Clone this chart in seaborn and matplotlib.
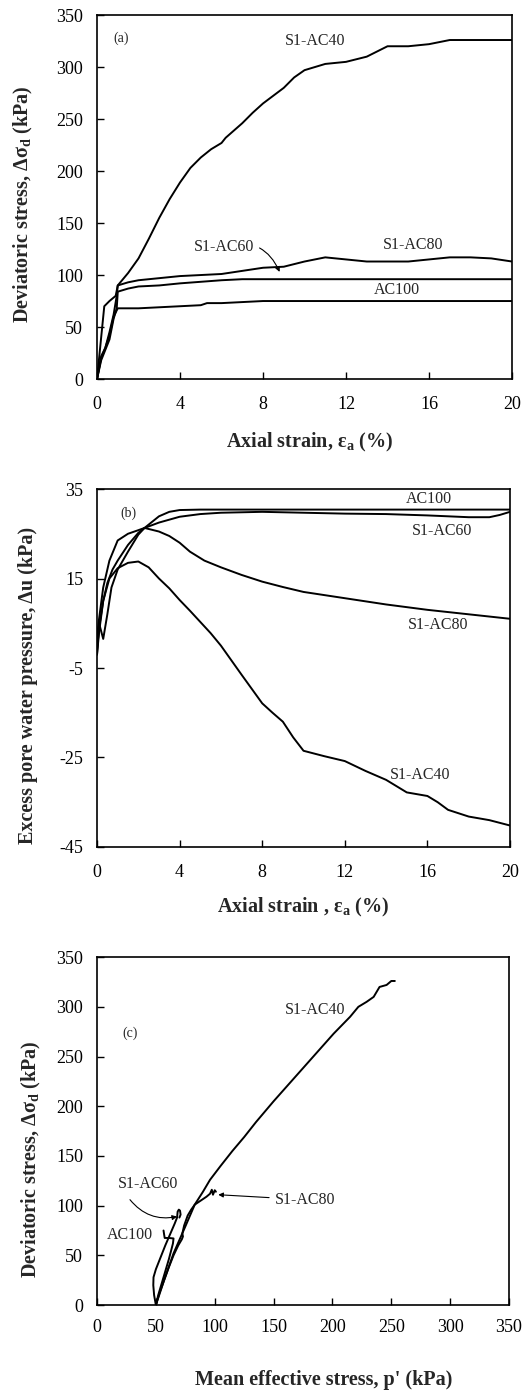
import matplotlib
matplotlib.use("Agg")
import matplotlib.pyplot as plt
import numpy as np
import pandas as pd
import seaborn as sns

# (a) deviatoric stress vs axial strain
a40_x = [0, 0.15, 0.35, 0.6, 0.9, 1.0, 1.5, 2, 2.5, 3, 3.5, 4, 4.5, 5, 5.5, 6, 6.2, 7, 7.5, 8, 9, 9.5, 10, 11, 12, 13, 13.5, 14, 15, 16, 17, 18, 20]
a40_y = [0, 30, 70, 75, 80, 90, 102, 116, 135, 155, 173, 189, 203, 213, 221, 227, 232, 246, 256, 265, 280, 290, 297, 303, 305, 310, 315, 320, 320, 322, 326, 326, 326]
a60_x = [0, 0.2, 0.4, 0.6, 0.8, 0.95, 1.0, 1.5, 2, 3, 4, 5, 6, 7, 8, 20]
a60_y = [0, 18, 28, 38, 58, 68, 84, 87, 89, 90, 92, 93.5, 95, 96, 96, 96]
a80_x = [0, 0.2, 0.4, 0.6, 0.8, 0.95, 1.0, 1.5, 2, 3, 4, 5, 6, 7, 8, 9, 10, 11, 12, 13, 14, 15, 16, 17, 18, 19, 20]
a80_y = [0, 22, 30, 45, 62, 80, 90, 93, 95, 97, 99, 100, 101, 104, 107, 108, 113, 117, 115, 113, 113, 113, 115, 117, 117, 116, 113]
a100_x = [0, 0.2, 0.4, 0.6, 0.8, 1.0, 1.5, 2, 3, 4, 5, 5.3, 6, 7, 8, 20]
a100_y = [0, 20, 30, 42, 60, 68, 68, 68, 69, 70, 71, 73, 73, 74, 75, 75]

# (b) excess pore water pressure vs axial strain
b40_x = [0, 0.1, 0.3, 0.6, 1, 1.5, 2, 2.5, 3, 3.5, 4, 4.5, 5, 5.5, 6, 7, 8, 8.5, 9, 9.5, 10, 11, 12, 13, 14, 15, 16, 16.5, 17, 18, 19, 20]
b40_y = [-2, 3, 10, 15, 17.3, 18.5, 18.8, 17.5, 15, 12.8, 10.2, 7.8, 5.3, 2.8, 0, -6.5, -12.9, -15, -17, -20.5, -23.5, -24.7, -25.8, -28, -30, -32.8, -33.6, -35, -36.7, -38.2, -39, -40.2]
b60_x = [0, 0.1, 0.3, 0.5, 0.7, 1, 1.5, 2, 2.3, 3, 4, 5, 6, 8, 10, 12, 14, 16, 18, 19, 19.5, 20]
b60_y = [-2, 5, 1.5, 7, 13, 17, 21, 24.8, 26.3, 27.5, 28.8, 29.4, 29.7, 29.9, 29.7, 29.5, 29.4, 29.1, 28.7, 28.7, 29.2, 29.9]
b80_x = [0, 0.1, 0.3, 0.6, 1, 1.5, 2, 2.3, 3, 3.5, 4, 4.5, 5.2, 6, 7, 8, 9, 10, 12, 14, 16, 18, 20]
b80_y = [2, 6, 13, 19, 23.5, 25, 25.8, 26.3, 25.5, 24.5, 23, 21, 19, 17.5, 15.8, 14.3, 13.1, 12, 10.6, 9.2, 8, 7, 6]
b100_x = [0, 0.1, 0.3, 0.5, 0.75, 1, 1.5, 2, 2.3, 3, 3.5, 4, 5, 20]
b100_y = [-1, 4, 10, 14, 17, 19, 22.5, 25.2, 26.3, 28.9, 29.9, 30.3, 30.4, 30.4]

# (c) stress paths q vs p'
c40_x = [50, 57, 65, 75, 83, 90, 96, 105, 115, 125, 135, 150, 165, 180, 201, 215, 222, 229, 235, 240, 246, 250, 253]
c40_y = [0, 25, 52, 79, 101, 114, 126, 140, 155, 169, 184, 205, 225, 245, 273, 290, 300, 305, 310, 320, 322, 326, 326]
c60_x = [50, 48.5, 47.8, 48, 50, 54, 58, 62, 66, 68, 68.5, 69.5, 70.5, 71, 70]
c60_y = [0, 10, 20, 28, 36, 48, 60, 71, 82, 88, 94, 96, 95, 91, 88]
c80_x = [50, 53, 57, 61, 65, 69, 72, 73, 72.5, 74, 77, 80, 83, 88, 93, 96, 97.5, 98.5, 100, 101]
c80_y = [0, 12, 25, 38, 50, 60, 66, 69, 72, 80, 90, 96, 101, 105, 109, 112, 116, 111, 115.5, 114]
c100_x = [50, 52, 55, 58, 61, 63, 64.5, 65, 61, 57.5, 57, 56.5]
c100_y = [0, 10, 22, 34, 46, 55, 62, 67, 67.5, 67.5, 71, 75]

names = ["S1-AC40", "S1-AC60", "S1-AC80", "AC100"]


def long_df(xs, ys):
    parts = []
    for name, x, y in zip(names, xs, ys):
        parts.append(pd.DataFrame({"x": x, "y": y, "series": name}))
    return pd.concat(parts, ignore_index=True)


df_a = long_df([a40_x, a60_x, a80_x, a100_x], [a40_y, a60_y, a80_y, a100_y])
df_b = long_df([b40_x, b60_x, b80_x, b100_x], [b40_y, b60_y, b80_y, b100_y])
df_c = long_df([c40_x, c60_x, c80_x, c100_x], [c40_y, c60_y, c80_y, c100_y])

sns.set_style("ticks")
plt.rcParams["font.family"] = ["Liberation Serif", "DejaVu Serif"]
plt.rcParams["mathtext.fontset"] = "custom"
plt.rcParams["mathtext.rm"] = "Liberation Serif"
plt.rcParams["mathtext.bf"] = "Liberation Serif:bold"
plt.rcParams["mathtext.it"] = "Liberation Serif:italic"
plt.rcParams["axes.unicode_minus"] = False

palette = {n: "black" for n in names}

fig = plt.figure(figsize=(5.23, 13.94), dpi=100)
ax1 = fig.add_axes([0.1855, 0.7281, 0.7935, 0.2611])
ax2 = fig.add_axes([0.1855, 0.3924, 0.7897, 0.2568])
ax3 = fig.add_axes([0.1855, 0.0638, 0.7878, 0.2496])

for ax, df in [(ax1, df_a), (ax2, df_b), (ax3, df_c)]:
    sns.lineplot(data=df, x="x", y="y", hue="series", palette=palette,
                 estimator=None, sort=False, legend=False, linewidth=1.4, ax=ax)
    for sp in ax.spines.values():
        sp.set_color("black")
        sp.set_linewidth(1.2)
    ax.tick_params(direction="in", length=5, width=1, colors="black",
                   labelsize=13, top=False, right=False)
    ax.tick_params(axis="x", pad=12)
    ax.tick_params(axis="y", pad=10)

label_font = dict(fontsize=14.5, fontweight="bold")

# (a)
ax1.set_xlim(0, 20)
ax1.set_ylim(0, 350)
ax1.set_xticks(np.arange(0, 21, 4))
ax1.set_yticks(np.arange(0, 351, 50))
ax1.set_xlabel(r"Axial strain, ε$_\mathbf{a}$ (%)", **label_font)
ax1.set_ylabel(r"Deviatoric stress, Δσ$_\mathbf{d}$ (kPa)", **label_font)
ax1.xaxis.set_label_coords(0.513, -0.173)
ax1.yaxis.set_label_coords(-0.176, 0.48)
ax1.text(1.14, 328, "(a)", fontsize=10, ha="center", va="center")
ax1.text(10.5, 325, "S1-AC40", fontsize=11.5, ha="center", va="center")
ax1.text(15.24, 129, "S1-AC80", fontsize=11.5, ha="center", va="center")
ax1.text(14.44, 86, "AC100", fontsize=11.5, ha="center", va="center")
ax1.annotate("S1-AC60", xy=(8.8, 103), xytext=(6.1, 127), fontsize=11.5,
             ha="center", va="center",
             arrowprops=dict(arrowstyle="-|>", color="black", lw=0.8,
                             mutation_scale=7, shrinkA=2, shrinkB=0,
                             connectionstyle="arc3,rad=-0.45"))

# (b)
ax2.set_xlim(0, 20)
ax2.set_ylim(-45, 35)
ax2.set_xticks(np.arange(0, 21, 4))
ax2.set_yticks(np.arange(-45, 36, 20))
ax2.set_xlabel(r"Axial strain , ε$_\mathbf{a}$ (%)", **label_font)
ax2.set_ylabel("Excess pore water pressure, Δu (kPa)", **label_font)
ax2.xaxis.set_label_coords(0.50, -0.17)
ax2.yaxis.set_label_coords(-0.167, 0.45)
ax2.text(1.51, 29.6, "(b)", fontsize=10, ha="center", va="center")
ax2.text(16.05, 32.7, "AC100", fontsize=11.5, ha="center", va="center")
ax2.text(16.7, 25.6, "S1-AC60", fontsize=11.5, ha="center", va="center")
ax2.text(16.5, 4.6, "S1-AC80", fontsize=11.5, ha="center", va="center")
ax2.text(15.65, -28.9, "S1-AC40", fontsize=11.5, ha="center", va="center")

# (c)
ax3.set_xlim(0, 350)
ax3.set_ylim(0, 350)
ax3.set_xticks(np.arange(0, 351, 50))
ax3.set_yticks(np.arange(0, 351, 50))
ax3.set_xlabel("Mean effective stress, p' (kPa)", **label_font)
ax3.set_ylabel(r"Deviatoric stress, Δσ$_\mathbf{d}$ (kPa)", **label_font)
ax3.xaxis.set_label_coords(0.549, -0.216)
ax3.yaxis.set_label_coords(-0.158, 0.42)
ax3.tick_params(axis="x", pad=10)
ax3.text(28, 273, "(c)", fontsize=10, ha="center", va="center")
ax3.text(185, 297, "S1-AC40", fontsize=11.5, ha="center", va="center")
ax3.text(43.6, 122, "S1-AC60", fontsize=11.5, ha="center", va="center")
ax3.text(28, 70, "AC100", fontsize=11.5, ha="center", va="center")
ax3.annotate("", xy=(68, 89), xytext=(28, 106),
             arrowprops=dict(arrowstyle="-|>", color="black", lw=0.8,
                             mutation_scale=7, shrinkA=0, shrinkB=0,
                             connectionstyle="arc3,rad=0.3"))
ax3.annotate("S1-AC80", xy=(103, 111), xytext=(177, 106), fontsize=11.5,
             ha="center", va="center",
             arrowprops=dict(arrowstyle="-|>", color="black", lw=0.8,
                             mutation_scale=7, shrinkA=2, shrinkB=0))

for ax in (ax1, ax2, ax3):
    ax.xaxis.label.set_va("center")
    ax.yaxis.label.set_va("center")

fig.savefig("out.png", dpi=100)
